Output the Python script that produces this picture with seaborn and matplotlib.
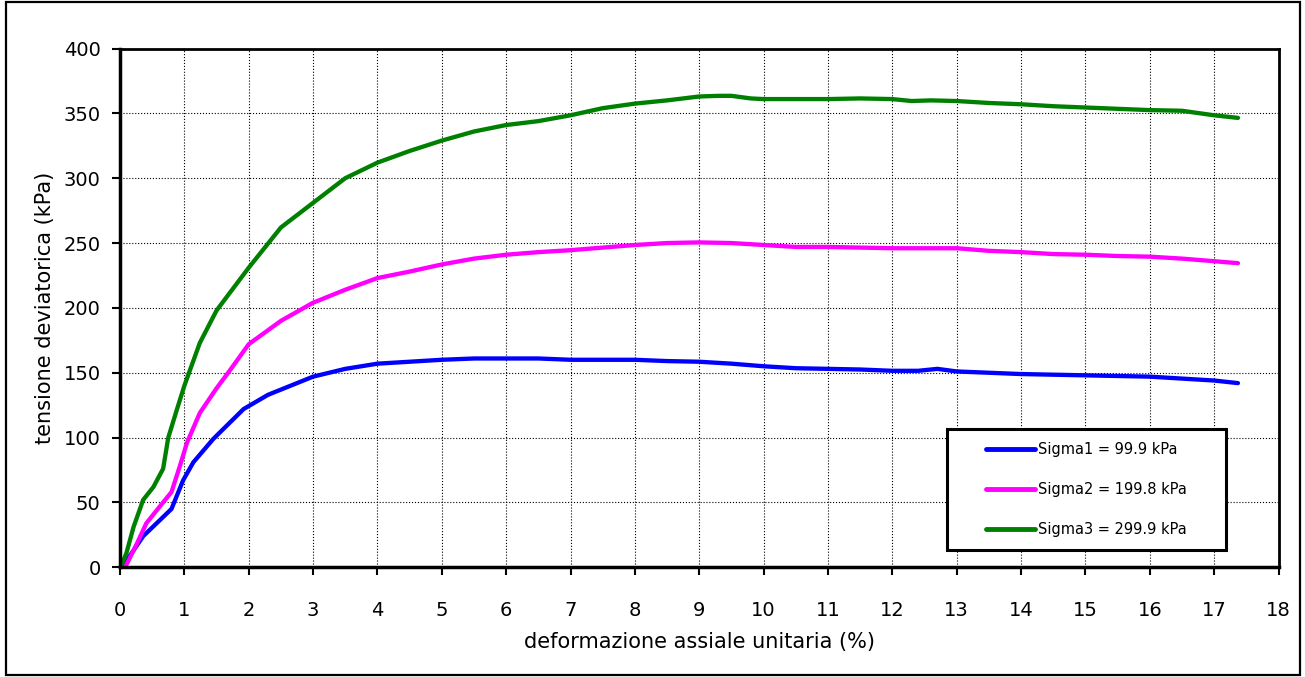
import matplotlib
matplotlib.use("Agg")
import matplotlib.pyplot as plt
from matplotlib.patches import Rectangle
import seaborn as sns
import pandas as pd

# ---- data ----
strain_1 = [0.03, 0.21, 0.36, 0.57, 0.80, 0.98, 1.14, 1.45, 1.92, 2.3, 2.85, 3.0, 3.5, 4.0,
            4.5, 5.0, 5.5, 6.0, 6.5, 7.0, 7.5, 8.0, 8.5, 9.0, 9.5, 10.0, 10.5, 11.0, 11.5,
            12.0, 12.4, 12.7, 13.0, 13.5, 14.0, 14.5, 15.0, 15.5, 16.0, 16.5, 17.0, 17.37]
sigma1 = [0, 13, 24, 34, 45, 67, 81, 99, 122, 133, 144, 147, 153, 157,
          158.5, 160, 161, 161, 161, 160, 160, 160, 159, 158.5, 157, 155, 153.5, 153, 152.5,
          151.5, 151.5, 153, 151, 150, 149, 148.5, 148, 147.5, 147, 145.5, 144, 142]

strain_2 = [0.08, 0.26, 0.41, 0.62, 0.80, 0.93, 1.04, 1.24, 1.5, 1.71, 2.0, 2.5, 3.0, 3.5,
            4.0, 4.5, 5.0, 5.5, 6.0, 6.5, 7.0, 7.5, 8.0, 8.5, 9.0, 9.5, 10.0, 10.5, 11.0,
            11.5, 12.0, 12.5, 13.0, 13.5, 14.0, 14.5, 15.0, 15.5, 16.0, 16.5, 17.0, 17.37]
sigma2 = [0, 18, 34, 47, 58, 78, 96, 119, 138, 152, 172, 190, 204, 214,
          223, 228, 233.5, 238, 241, 243, 244.5, 246.5, 248.5, 250, 250.5, 250, 248.5, 247, 247,
          246.5, 246, 246, 246, 244, 243, 241.5, 241, 240, 239.5, 238, 236, 234.5]

strain_3 = [0.01, 0.10, 0.21, 0.36, 0.52, 0.67, 0.75, 0.88, 1.0, 1.24, 1.5, 2.0, 2.5, 3.0,
            3.5, 4.0, 4.5, 5.0, 5.5, 6.0, 6.5, 7.0, 7.5, 8.0, 8.5, 9.0, 9.3, 9.5, 9.8, 10.0,
            10.5, 11.0, 11.5, 12.0, 12.3, 12.6, 13.0, 13.5, 14.0, 14.5, 15.0, 15.5, 16.0,
            16.5, 17.0, 17.37]
sigma3 = [0, 11, 31, 52, 62, 76, 100, 121, 140, 173, 198, 231, 262, 281,
          300, 312, 321, 329, 336, 341, 344, 348.5, 354, 357.5, 360, 363, 363.5, 363.5, 361.5, 361,
          361, 361, 361.5, 361, 359.5, 360, 359.5, 358, 357, 355.5, 354.5, 353.5, 352.5,
          352, 348.5, 346.5]

labels = ["Sigma1 = 99.9 kPa", "Sigma2 = 199.8 kPa", "Sigma3 = 299.9 kPa"]
colors = ["#0000FF", "#FF00FF", "#008000"]
x_ticks = list(range(0, 19))
y_ticks = list(range(0, 401, 50))

df = pd.concat([
    pd.DataFrame({"x": strain_1, "y": sigma1, "serie": labels[0]}),
    pd.DataFrame({"x": strain_2, "y": sigma2, "serie": labels[1]}),
    pd.DataFrame({"x": strain_3, "y": sigma3, "serie": labels[2]}),
], ignore_index=True)

sns.set_style("white")
plt.rcParams["font.family"] = ["DejaVu Sans"]
plt.rcParams["text.color"] = "black"
plt.rcParams["axes.labelcolor"] = "black"
plt.rcParams["xtick.color"] = "black"
plt.rcParams["ytick.color"] = "black"

fig = plt.figure(figsize=(13.05, 6.77), dpi=100)
fig.patch.set_facecolor("white")
fig.patches.append(Rectangle((6 / 1305, 2 / 677), 1294 / 1305, 673 / 677,
                             transform=fig.transFigure, fill=False,
                             edgecolor="black", linewidth=1.6))
ax = fig.add_axes([120 / 1305, 109.7 / 677, 1158.5 / 1305, 518.8 / 677])

sns.lineplot(data=df, x="x", y="y", hue="serie", palette=colors, hue_order=labels,
             estimator=None, sort=False, linewidth=3.1, ax=ax, legend=True)

ax.set_xlim(0, 18)
ax.set_ylim(0, 400)
ax.set_xticks(x_ticks)
ax.set_yticks(y_ticks)
ax.tick_params(axis="both", labelsize=14, direction="out", length=6, width=1.5,
               colors="black", left=True, bottom=True)
ax.tick_params(axis="x", pad=18)
ax.tick_params(axis="y", pad=8)
ax.grid(True, color="black", linestyle=":", linewidth=0.8)
for s in ax.spines.values():
    s.set_visible(True)
    s.set_color("black")
ax.spines["left"].set_linewidth(2.5)
ax.spines["bottom"].set_linewidth(2.5)
ax.spines["top"].set_linewidth(2.0)
ax.spines["right"].set_linewidth(2.0)

ax.set_xlabel("deformazione assiale unitaria (%)", fontsize=15, labelpad=9)
ax.set_ylabel("tensione deviatorica (kPa)", fontsize=15, labelpad=6)

# legend frame (box) and centred legend content
box = (0.7139, 0.0333, 0.2408, 0.2332)
ax.add_patch(Rectangle((box[0], box[1]), box[2], box[3], transform=ax.transAxes,
                       facecolor="white", edgecolor="black", linewidth=2.2,
                       zorder=4.5, clip_on=False))
leg = ax.legend(loc="center", bbox_to_anchor=(box[0] + box[2] / 2, box[1] + box[3] / 2),
                fontsize=10.5, frameon=False, labelspacing=1.7, handlelength=3.4,
                handletextpad=0.2, borderpad=0.0, borderaxespad=0, title=None)
leg.set_zorder(6)
for h in leg.get_lines():
    h.set_linewidth(3.5)
    h.set_solid_capstyle("round")

fig.savefig("out.png", dpi=100, facecolor="white")
